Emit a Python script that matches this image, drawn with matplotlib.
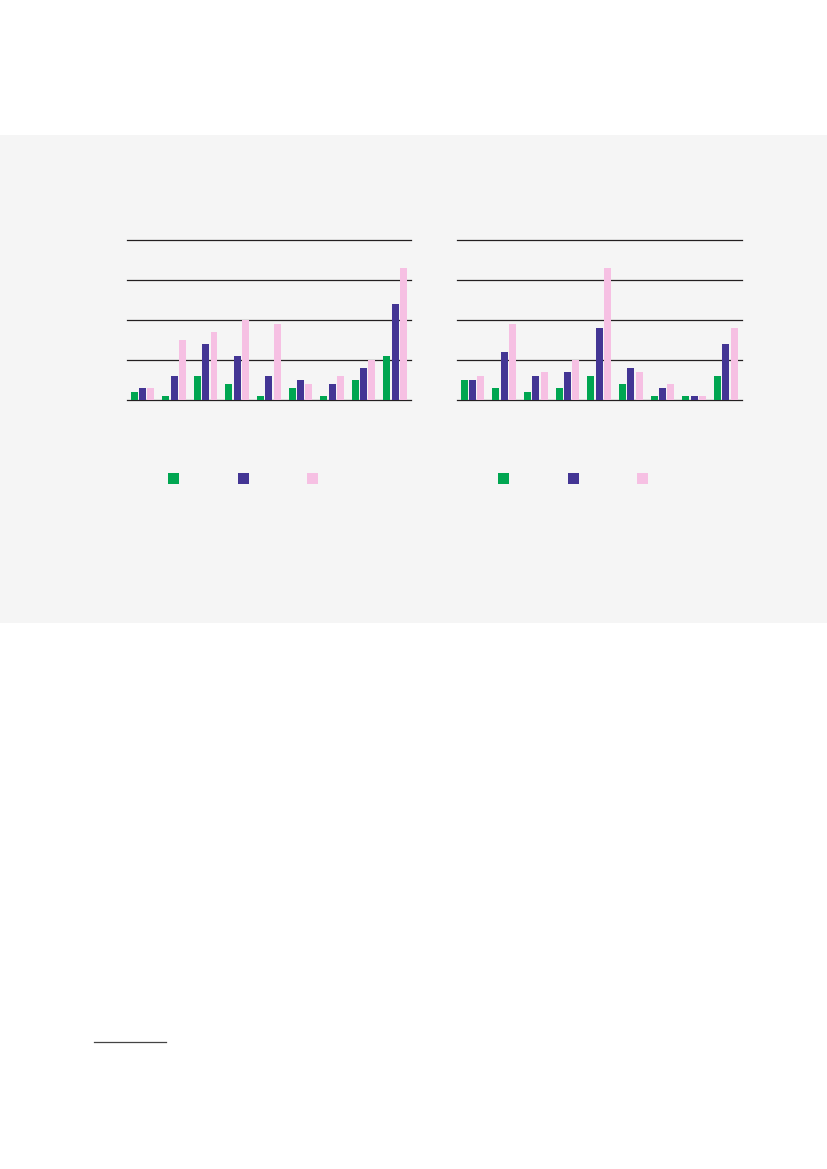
import matplotlib
matplotlib.use("Agg")
import matplotlib.pyplot as plt
import matplotlib.patches as mpatches
import numpy as np

W, H = 827, 1169
GREEN, PURPLE, PINK = "#00a651", "#433594", "#f6c0e3"
GRID = "#231f20"

# values (grid lines at 10, 20, 30, 40)
groups = np.arange(9)
left_green  = [2, 1, 6, 4, 1, 3, 1, 5, 11]
left_purple = [3, 6, 14, 11, 6, 5, 4, 8, 24]
left_pink   = [3, 15, 17, 20, 19, 4, 6, 10, 33]
right_green  = [5, 3, 2, 3, 6, 4, 1, 1, 6]
right_purple = [5, 12, 6, 7, 18, 8, 3, 1, 14]
right_pink   = [6, 19, 7, 10, 33, 7, 4, 1, 18]
grid_vals = [0, 10, 20, 30, 40]


def px_axes(x0, y0, x1, y1):
    return fig.add_axes([x0 / W, 1 - y1 / H, (x1 - x0) / W, (y1 - y0) / H])


fig = plt.figure(figsize=(W / 100, H / 100), dpi=100)
fig.patch.set_facecolor("white")

# grey panel behind the charts
fig.patches.append(mpatches.Rectangle((0, 1 - 622.7 / H), 1, (622.7 - 135.3) / H,
                                      transform=fig.transFigure, facecolor="#f5f5f5",
                                      edgecolor="none", zorder=-5))

step, bw = 0.263, 0.22
for (x0, x1), series in [((126.7, 411.0), (left_green, left_purple, left_pink)),
                         ((456.7, 741.7), (right_green, right_purple, right_pink))]:
    ax = px_axes(x0, 240.3, x1, 399.5)
    ax.set_facecolor("none")
    ax.set_zorder(2)
    for k, (vals, col) in enumerate(zip(series, [GREEN, PURPLE, PINK])):
        ax.bar(groups + (k - 1) * step, vals, width=bw, color=col, zorder=3)
    for g in grid_vals:
        ax.axhline(g, color=GRID, linewidth=0.9, zorder=2, clip_on=False)
    ax.set_xlim(-0.5, 8.5)
    ax.set_ylim(0, 40)
    ax.axis("off")

# legend swatches
sw_x = [173.3, 243.0, 312.0, 503.8, 573.5, 642.0]
sw_c = [GREEN, PURPLE, PINK] * 2
for cx, c in zip(sw_x, sw_c):
    fig.patches.append(mpatches.Rectangle(((cx - 5.5) / W, 1 - 484.3 / H), 11 / W, 11 / H,
                                          transform=fig.transFigure, facecolor=c,
                                          edgecolor="none", zorder=3))

# footnote rule
fig.add_artist(plt.Line2D([94.3 / W, 165.7 / W], [1 - 1042.3 / H] * 2,
                          transform=fig.transFigure, color="#444444", linewidth=0.9))

fig.savefig("out.png", dpi=100)
